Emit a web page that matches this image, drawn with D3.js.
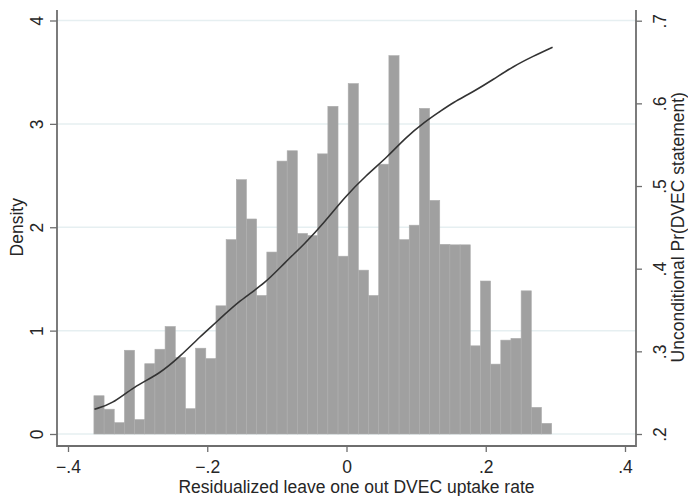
<!DOCTYPE html>
<html>
<head>
<meta charset="utf-8">
<script src="https://cdn.jsdelivr.net/npm/d3@7"></script>
<style>
  body { margin: 0; background: #fff; }
  svg { display: block; font-family: "Liberation Sans", Arial, sans-serif; }
</style>
</head>
<body>
<svg id="chart" width="688" height="496"></svg>
<script>
// Histogram bins (left edge of first bin, common bin width)
const binStart = -0.3628;
const binWidth = 0.01461;
const density = [
  0.37, 0.24, 0.11, 0.81, 0.14, 0.68, 0.82, 1.04, 0.74, 0.245, 0.83, 0.73,
  1.24, 1.88, 2.46, 2.08, 1.34, 1.76, 2.64, 2.74, 1.94, 1.92, 2.71, 3.17,
  1.72, 3.39, 1.585, 1.34, 2.61, 3.66, 1.88, 2.02, 3.15, 2.26, 1.835, 1.83,
  1.83, 0.853, 1.48, 0.676, 0.908, 0.925, 1.385, 0.258, 0.103
];

// Smoothed Pr(DVEC statement), right axis
const lineX = [
  -0.362, -0.337, -0.306, -0.268, -0.239, -0.210, -0.186, -0.153, -0.117, -0.088,
  -0.060, -0.031, -0.002, 0.027, 0.060, 0.084, 0.113, 0.134, 0.153, 0.182,
  0.211, 0.240, 0.268, 0.296
];
const lineY = [
  0.230, 0.236, 0.257, 0.273, 0.294, 0.318, 0.336, 0.362, 0.382, 0.408,
  0.430, 0.457, 0.487, 0.512, 0.536, 0.558, 0.578, 0.590, 0.601, 0.614,
  0.629, 0.645, 0.657, 0.668
];

const xTicks = [-0.4, -0.2, 0, 0.2, 0.4];
const yTicks = [0, 1, 2, 3, 4];
const y2Ticks = [0.2, 0.3, 0.4, 0.5, 0.6, 0.7];

// Stata style: ".2", "-.4", "0"
const fmt = (d) => (d === 0 ? '0' : d3.format('.1f')(d).replace('0.', '.'));

const svg = d3.select('#chart');
const frame = { left: 57, right: 636, top: 10, bottom: 446 };
const axisColor = '#6e6e6e';
const textColor = '#262626';
const fontSize = 17.5;

const x = d3.scaleLinear().domain([-0.4, 0.4]).range([68, 625]);
const y = d3.scaleLinear().domain([0, 4]).range([434, 20.5]);
const y2 = d3.scaleLinear().domain([0.2, 0.7]).range([434, 20.7]);

// gridlines
svg.append('g')
  .selectAll('line')
  .data(yTicks)
  .join('line')
  .attr('x1', frame.left).attr('x2', frame.right)
  .attr('y1', (d) => y(d)).attr('y2', (d) => y(d))
  .attr('stroke', '#e6eff1')
  .attr('stroke-width', 1.5);

// bars
svg.append('g')
  .selectAll('rect')
  .data(density)
  .join('rect')
  .attr('x', (d, i) => x(binStart + i * binWidth))
  .attr('width', x(binWidth) - x(0))
  .attr('y', (d) => y(d))
  .attr('height', (d) => y(0) - y(d))
  .attr('fill', '#a0a0a0')
  .attr('stroke', '#adadad')
  .attr('stroke-width', 0.6);

// line
const line = d3.line()
  .x((d) => x(d[0]))
  .y((d) => y2(d[1]))
  .curve(d3.curveBasis);

svg.append('path')
  .datum(lineX.map((d, i) => [d, lineY[i]]))
  .attr('d', line)
  .attr('fill', 'none')
  .attr('stroke', '#333')
  .attr('stroke-width', 1.6);

// axes
const styleAxis = (g) => {
  g.select('.domain').remove();
  g.selectAll('.tick line').attr('stroke', axisColor).attr('stroke-width', 1.3);
  g.selectAll('.tick text').attr('fill', textColor).attr('font-size', fontSize);
};

svg.append('g')
  .attr('transform', `translate(0, ${frame.bottom})`)
  .call(d3.axisBottom(x).tickValues(xTicks).tickSize(6).tickPadding(9).tickFormat(fmt))
  .call(styleAxis);

svg.append('g')
  .attr('transform', `translate(${frame.left}, 0)`)
  .call(d3.axisLeft(y).tickValues(yTicks).tickSize(7).tickFormat(d3.format('d')))
  .call(styleAxis)
  .selectAll('.tick text')
  .attr('x', 0).attr('dy', 0)
  .attr('text-anchor', 'middle')
  .attr('transform', 'translate(-14, 0) rotate(-90)');

svg.append('g')
  .attr('transform', `translate(${frame.right}, 0)`)
  .call(d3.axisRight(y2).tickValues(y2Ticks).tickSize(6).tickFormat(fmt))
  .call(styleAxis)
  .selectAll('.tick text')
  .attr('x', 0).attr('dy', 0)
  .attr('text-anchor', 'middle')
  .attr('transform', 'translate(30, 0) rotate(-90)');

// axis lines (left, bottom, right)
svg.append('path')
  .attr('d', `M${frame.left},${frame.top}V${frame.bottom}H${frame.right}V${frame.top}`)
  .attr('fill', 'none')
  .attr('stroke', axisColor)
  .attr('stroke-width', 1.8);

// titles
svg.append('text')
  .attr('transform', `translate(${(frame.left + frame.right) / 2 + 10}, 493)`)
  .attr('text-anchor', 'middle')
  .attr('font-size', fontSize)
  .attr('fill', textColor)
  .text('Residualized leave one out DVEC uptake rate');

svg.append('text')
  .attr('transform', `translate(23, ${(y(0) + y(4)) / 2}) rotate(-90)`)
  .attr('text-anchor', 'middle')
  .attr('font-size', fontSize)
  .attr('fill', textColor)
  .text('Density');

svg.append('text')
  .attr('transform', `translate(684, ${(y(0) + y(4)) / 2}) rotate(-90)`)
  .attr('text-anchor', 'middle')
  .attr('font-size', fontSize)
  .attr('fill', textColor)
  .text('Unconditional Pr(DVEC statement)');
</script>
</body>
</html>
